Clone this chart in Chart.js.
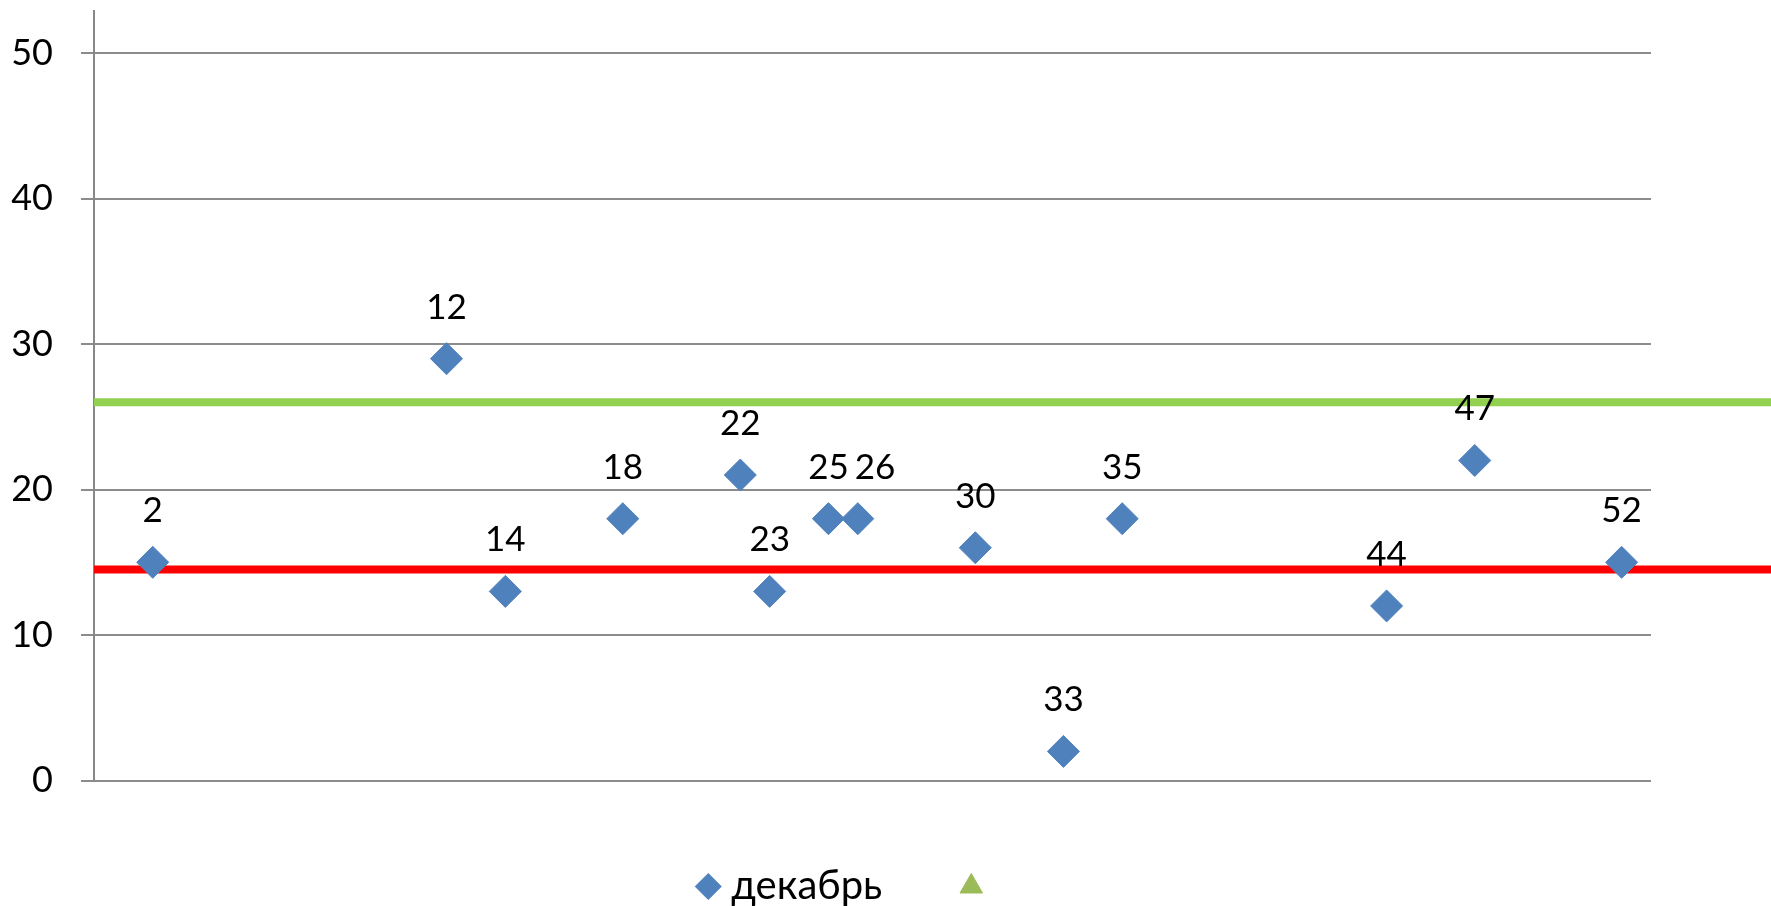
<!DOCTYPE html>
<html>
<head>
<meta charset="utf-8">
<script src="https://cdn.jsdelivr.net/npm/chart.js@4/dist/chart.umd.min.js"></script>
<style>
  body { margin: 0; background: #fff; }
  canvas { display: block; }
</style>
</head>
<body>
<canvas id="chart" width="1771" height="906"></canvas>
<script>
const weeks = [2, 12, 14, 18, 22, 23, 25, 26, 30, 33, 35, 44, 47, 52];
const values = [15, 29, 13, 18, 21, 13, 18, 18, 16, 2, 18, 12, 22, 15];
const yTicks = [0, 10, 20, 30, 40, 50];
const seriesName = 'декабрь';
const upperLevel = 26;
const lowerLevel = 14.5;

// week numbers above the diamonds, nudged right when two would overlap
const pointLabels = {
    id: 'pointLabels',
    afterDatasetsDraw(chart) {
        const ctx = chart.ctx;
        const meta = chart.getDatasetMeta(0);
        ctx.save();
        ctx.font = '35px Lato';
        ctx.fillStyle = '#000';
        ctx.textAlign = 'left';
        ctx.textBaseline = 'alphabetic';
        const placed = [];
        meta.data.forEach((pt, i) => {
            const txt = String(weeks[i]);
            const w = ctx.measureText(txt).width;
            const y = pt.y - 40;
            let left = pt.x - w / 2;
            placed.forEach(p => {
                if (Math.abs(p.y - y) < 30 && p.right + 6 > left && p.left < left + w) left = p.right + 6;
            });
            ctx.fillText(txt, left, y);
            placed.push({left, right: left + w, y});
        });
        ctx.restore();
    }
};

new Chart(document.getElementById('chart'), {
    type: 'scatter',
    data: {
        datasets: [{
            label: seriesName,
            data: weeks.map((w, i) => ({x: w, y: values[i]})),
            pointStyle: 'rectRot',
            pointRadius: 16,
            borderWidth: 1,
            backgroundColor: '#4F81BD',
            borderColor: '#4F81BD'
        }, {
            label: '',
            data: [],
            pointStyle: 'triangle',
            backgroundColor: '#9BBB59',
            borderColor: '#9BBB59',
            borderWidth: 1
        }, {
            label: 'upper',
            data: [{x: 0, y: upperLevel}, {x: 60, y: upperLevel}],
            showLine: true,
            pointRadius: 0,
            borderColor: '#92D050',
            borderWidth: 8,
            clip: false
        }, {
            label: 'lower',
            data: [{x: 0, y: lowerLevel}, {x: 60, y: lowerLevel}],
            showLine: true,
            pointRadius: 0,
            borderColor: '#FF0000',
            borderWidth: 8,
            clip: false
        }]
    },
    options: {
        responsive: false,
        animation: false,
        devicePixelRatio: 1,
        layout: {autoPadding: false, padding: {left: 8, right: 79.5, top: 11, bottom: 0}},
        scales: {
            x: {display: false, min: 0, max: 53},
            y: {
                min: 0,
                max: 52.9,
                afterBuildTicks: s => { s.ticks = yTicks.map(v => ({value: v})); },
                afterFit: s => { s.width = 86; s.paddingTop = 0; s.paddingBottom = 0; },
                border: {color: '#888', width: 2},
                grid: {color: '#8c8c8c', lineWidth: 2, tickLength: 13},
                ticks: {font: {family: 'Lato', size: 36}, color: '#000', padding: 28}
            },
            y2: {
                position: 'right',
                display: true,
                grid: {display: false, drawTicks: false},
                border: {display: false},
                ticks: {display: false},
                afterFit: s => { s.width = 40.5; s.paddingTop = 0; s.paddingBottom = 0; }
            }
        },
        plugins: {
            tooltip: {enabled: false},
            legend: {
                position: 'bottom',
                maxHeight: 125.5,
                labels: {
                    usePointStyle: true,
                    boxWidth: 6,
                    boxHeight: 18.4,
                    padding: 86,
                    color: '#000',
                    font: {family: 'Lato', size: 40},
                    filter: item => item.datasetIndex < 2
                }
            }
        }
    },
    plugins: [pointLabels]
});
</script>
</body>
</html>
